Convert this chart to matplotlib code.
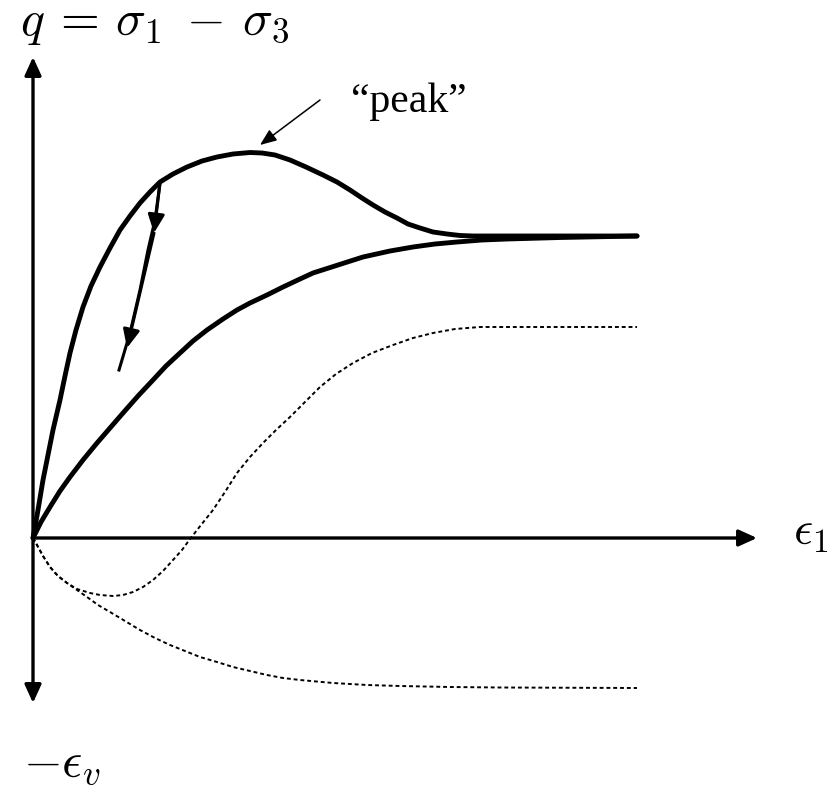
import matplotlib
matplotlib.use('Agg')
import matplotlib.pyplot as plt

plt.rcParams['mathtext.fontset'] = 'cm'

# axial strain (x) vs deviator stress (y, up) / volumetric strain (y, down)
# dense sand: peak then softening to critical state
eps_dense = [0, 0.05, 0.10, 0.15, 0.20, 0.27, 0.32, 0.37, 0.43, 0.50, 0.58, 0.67,
             0.77, 0.87, 0.97, 1.07, 1.17, 1.27, 1.40, 1.54, 1.69, 1.84, 2.00, 2.17,
             2.29, 2.42, 2.57, 2.73, 2.90, 3.04, 3.17, 3.29, 3.40, 3.52, 3.64, 3.75,
             3.87, 4.00, 4.14, 4.27, 4.40, 6.04]
q_dense = [0, 0.28, 0.58, 0.83, 1.08, 1.38, 1.62, 1.85, 2.08, 2.31, 2.52, 2.71,
           2.90, 3.08, 3.22, 3.35, 3.46, 3.56, 3.64, 3.71, 3.77, 3.81, 3.84, 3.855,
           3.85, 3.83, 3.78, 3.71, 3.63, 3.56, 3.48, 3.40, 3.33, 3.26, 3.20, 3.14,
           3.10, 3.06, 3.04, 3.025, 3.02, 3.02]

# loose sand: monotonic hardening to the same critical state
eps_loose = [0, 0.08, 0.17, 0.27, 0.37, 0.50, 0.64, 0.77, 0.90, 1.05, 1.20, 1.33,
             1.47, 1.60, 1.74, 1.90, 2.04, 2.17, 2.34, 2.50, 2.67, 2.80, 3.05, 3.30,
             3.57, 3.80, 4.02, 4.24, 4.49, 4.74, 5.27, 6.04]
q_loose = [0, 0.16, 0.31, 0.47, 0.61, 0.78, 0.95, 1.10, 1.25, 1.42, 1.58, 1.72,
           1.85, 1.97, 2.08, 2.19, 2.28, 2.35, 2.43, 2.51, 2.59, 2.65, 2.73, 2.81,
           2.87, 2.91, 2.94, 2.96, 2.98, 2.99, 3.005, 3.02]

# unloading branch from the dense curve
eps_unload = [1.27, 1.22, 1.15, 1.07, 0.97, 0.86]
q_unload = [3.55, 3.18, 2.88, 2.48, 2.05, 1.68]
unload_tips = [(1.21, 3.05), (0.94, 1.90)]

# volumetric strain, dense (contraction then dilation)
eps_vd = [0, 0.04, 0.10, 0.17, 0.25, 0.34, 0.44, 0.57, 0.67, 0.80, 0.90, 1.00,
          1.10, 1.20, 1.30, 1.40, 1.49, 1.57, 1.68, 1.80, 1.92, 2.04, 2.17, 2.30,
          2.43, 2.57, 2.72, 2.87, 3.03, 3.20, 3.39, 3.60, 3.80, 4.00, 4.22, 4.47, 6.04]
ev_dense = [0, -0.07, -0.18, -0.29, -0.38, -0.45, -0.51, -0.55, -0.57, -0.58, -0.57, -0.54,
            -0.49, -0.42, -0.33, -0.22, -0.12, -0.01, 0.13, 0.28, 0.46, 0.65, 0.81, 0.95,
            1.08, 1.21, 1.36, 1.51, 1.64, 1.75, 1.85, 1.93, 2.00, 2.05, 2.09, 2.11, 2.11]

# volumetric strain, loose (contraction only)
eps_vl = [0, 0.04, 0.10, 0.17, 0.25, 0.34, 0.44, 0.54, 0.65, 0.77, 0.92, 1.07,
          1.22, 1.37, 1.52, 1.67, 1.84, 2.00, 2.17, 2.34, 2.50, 2.67, 3.00, 3.34,
          3.67, 4.17, 4.67, 6.04]
ev_loose = [0, -0.07, -0.18, -0.29, -0.38, -0.45, -0.52, -0.59, -0.67, -0.74, -0.83, -0.92,
            -1.00, -1.07, -1.13, -1.19, -1.24, -1.29, -1.33, -1.37, -1.40, -1.42, -1.45, -1.47,
            -1.48, -1.49, -1.495, -1.50]

fig = plt.figure(figsize=(8.35, 7.88), dpi=100)
ax = fig.add_axes([0, 0, 1, 1])
ax.set_xlim(-0.33, 8.02)
ax.set_ylim(-2.50, 5.38)
ax.axis('off')

def arrow(x0, y0, x1, y1, lw, hl=1.1, hw=0.5):
    ax.annotate('', xy=(x1, y1), xytext=(x0, y0),
                arrowprops=dict(arrowstyle='-|>,head_length=%g,head_width=%g' % (hl, hw),
                                mutation_scale=10, lw=lw, color='black',
                                shrinkA=0, shrinkB=0))

# axes
arrow(0, 0, 0, 4.81, 2.4)
arrow(0, 0, 0, -1.65, 2.4)
arrow(0, 0, 7.24, 0, 2.4)

ax.plot(eps_dense, q_dense, color='black', lw=3.5, solid_capstyle='round', solid_joinstyle='round')
ax.plot(eps_loose, q_loose, color='black', lw=3.5, solid_capstyle='round', solid_joinstyle='round')

ax.plot(eps_unload, q_unload, color='black', lw=2.2)
starts = [(eps_unload[0], q_unload[0]), unload_tips[0]]
for (x0, y0), (x1, y1) in zip(starts, unload_tips):
    arrow(x0, y0, x1, y1, 2.2)

ax.plot(eps_vd, ev_dense, color='black', lw=1.4, linestyle=(0, (2, 1.5)))
ax.plot(eps_vl, ev_loose, color='black', lw=1.4, linestyle=(0, (2, 1.5)))

# "peak" pointer
arrow(2.87, 4.38, 2.27, 3.93, 1.1, hl=1.0, hw=0.4)
ax.text(3.18, 4.26, '\u201cpeak\u201d', family='Liberation Serif', fontsize=30,
        ha='left', va='baseline')

ax.text(-0.13, 5.03, r'$q\:=\,\sigma_1\;\:{-}\:\,\sigma_3$', fontsize=36, ha='left', va='baseline')
ax.text(7.60, -0.07, r'$\epsilon_1$', fontsize=34, ha='left', va='baseline')
ax.text(-0.10, -2.38, r'$-\epsilon_v$', fontsize=36, ha='left', va='baseline')

fig.savefig('out.png', dpi=100)
